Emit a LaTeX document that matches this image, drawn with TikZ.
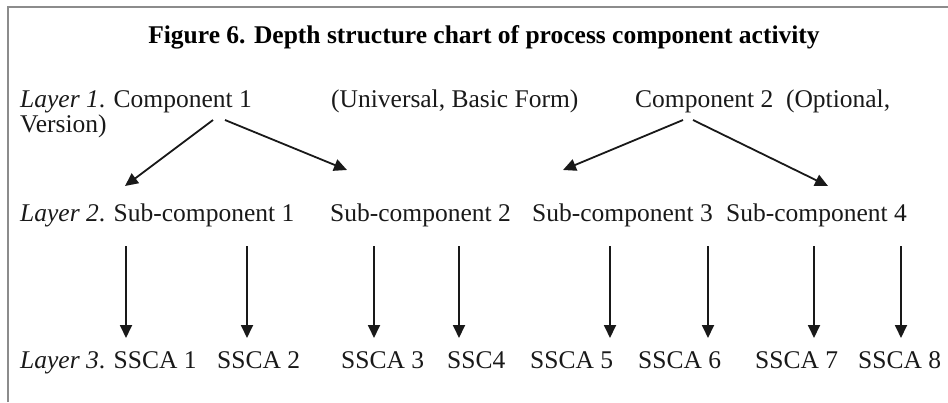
\documentclass[tikz,border=0pt]{standalone}
\usepackage{fontspec}
\setmainfont{Liberation Serif}
\usetikzlibrary{arrows.meta}
\begin{document}
\begin{tikzpicture}[x=1pt,y=-1pt,
  lbl/.style={anchor=base west, inner sep=0pt, font=\fontsize{25.5}{30}\selectfont, text=black!90},
  ttl/.style={anchor=base, inner sep=0pt, font=\fontsize{25.5}{30}\selectfont\bfseries, text=black},
  arr/.style={line width=1.8pt, draw=black!90, -{Triangle[length=13pt,width=12pt]}},
  frame/.style={draw=black!45, line width=2pt}]
\useasboundingbox (0,0) rectangle (948,402);
\draw[frame] (8,402) -- (8,7) -- (948,7);
\node[ttl] (title) at (484,43) {Figure 6. Depth structure chart of process component activity};
% Layer 1
\node[lbl] (c1) at (20,107) {\textit{Layer 1}. Component 1};
\node[lbl] (c1b) at (331,107) {(Universal, Basic Form)};
\node[lbl] (c2) at (635,107) {Component 2\ \ (Optional,};
\node[lbl] (ver) at (20,132) {Version)};
% Layer 2
\node[lbl] (s1) at (20,221) {\textit{Layer 2}. Sub-component 1};
\node[lbl] (s2) at (330,221) {Sub-component 2};
\node[lbl] (s3) at (532,221) {Sub-component 3};
\node[lbl] (s4) at (726,221) {Sub-component 4};
% Layer 3
\node[lbl] (a1) at (20,368) {\textit{Layer 3}. SSCA 1};
\node[lbl] (a2) at (217,368) {SSCA 2};
\node[lbl] (a3) at (341,368) {SSCA 3};
\node[lbl] (a4) at (447,368) {SSC4};
\node[lbl] (a5) at (530,368) {SSCA 5};
\node[lbl] (a6) at (638,368) {SSCA 6};
\node[lbl] (a7) at (755,368) {SSCA 7};
\node[lbl] (a8) at (858,368) {SSCA 8};
% arrow end points
\coordinate (c1l) at (213,120);
\coordinate (c1r) at (225,120);
\coordinate (c2l) at (683,120);
\coordinate (c2r) at (693,120);
\coordinate (s1t) at (125,186);
\coordinate (s2t) at (347,170);
\coordinate (s3t) at (563,170);
\coordinate (s4t) at (828,186);
\draw[arr] (c1l) -- (s1t);
\draw[arr] (c1r) -- (s2t);
\draw[arr] (c2l) -- (s3t);
\draw[arr] (c2r) -- (s4t);
\foreach \i/\x in {1/126,2/247,3/374,4/459,5/610,6/708,7/814,8/901}{
  \coordinate (v\i s) at (\x,246);
  \coordinate (v\i e) at (\x,338);
  \draw[arr] (v\i s) -- (v\i e);
}
\end{tikzpicture}
\end{document}
